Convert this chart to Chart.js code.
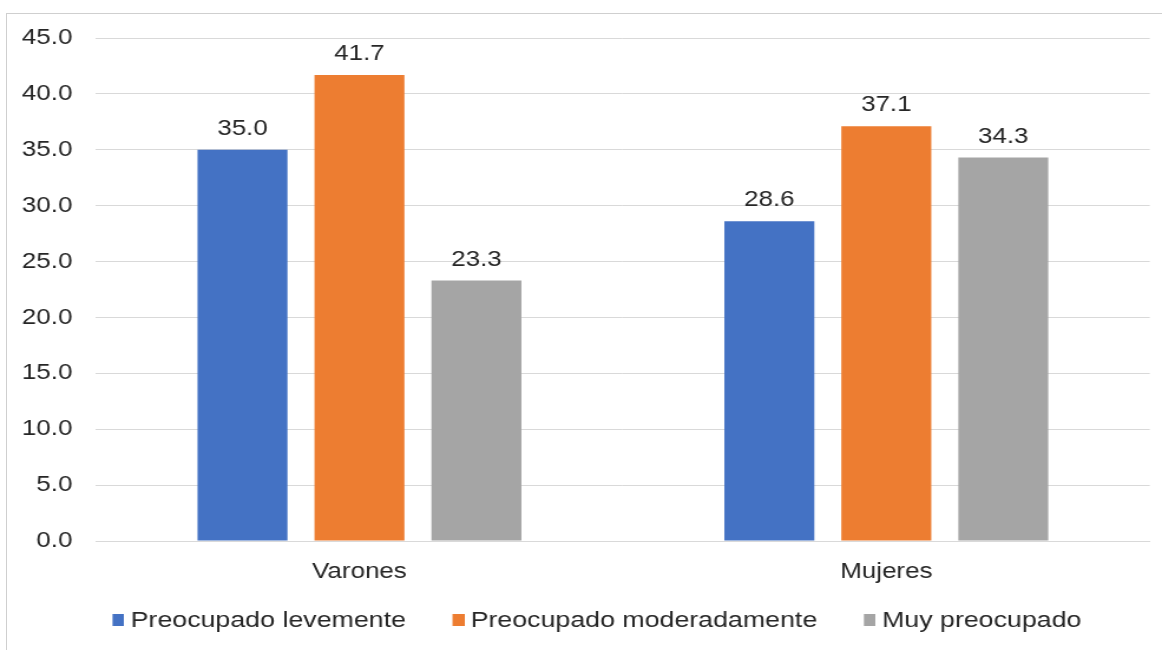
<!DOCTYPE html>
<html>
<head>
<meta charset="utf-8">
<script src="https://cdn.jsdelivr.net/npm/chart.js@4"></script>
<style>
  body { margin: 0; background: #fff; overflow: hidden; }
  #frame { position: absolute; left: 6px; top: 13px; width: 2000px; height: 2000px; border: 1px solid #cfcfcf; }
  #wrap { position: absolute; left: 0; top: 0; width: 985px; height: 650px; transform: scaleX(1.1797); transform-origin: 0 0; }
</style>
</head>
<body>
<div id="frame"></div>
<div id="wrap"><canvas id="myChart" width="985" height="650"></canvas></div>
<script>
  // data
  var groups = ["Varones", "Mujeres"];
  var series = ["Preocupado levemente", "Preocupado moderadamente", "Muy preocupado"];
  var levemente = [35.0, 28.6];
  var moderadamente = [41.7, 37.1];
  var muy = [23.3, 34.3];
  var colors = ["#4472C4", "#ED7D31", "#A5A5A5"];

  var font = '"Liberation Sans", Arial, sans-serif';
  var textColor = "#262626";

  // legend square, drawn on the right side of a wider image so the text sits close to it
  function legendMark(color){
    var c = document.createElement("canvas");
    c.width = 22;
    c.height = 12;
    var g = c.getContext("2d");
    g.fillStyle = color;
    g.fillRect(12, 0, 10, 12);
    return c;
  }

  // value labels above bars
  var valueLabels = {
    id: "valueLabels",
    afterDatasetsDraw: function(chart){
      var ctx = chart.ctx;
      ctx.save();
      ctx.font = "22px " + font;
      ctx.fillStyle = textColor;
      ctx.textAlign = "center";
      ctx.textBaseline = "alphabetic";
      chart.data.datasets.forEach(function(ds, i){
        chart.getDatasetMeta(i).data.forEach(function(bar, j){
          ctx.fillText(ds.data[j].toFixed(1), bar.x, bar.y - 15);
        })
      })
      ctx.restore();
    }
  };

  // nudge the legend up / right after layout
  var legendShift = {
    id: "legendShift",
    afterLayout: function(chart){
      var lg = chart.legend;
      if (!lg) return;
      lg.top -= 9.9; lg.bottom -= 9.9;
      lg.left += 15.7; lg.right += 15.7;
    }
  };

  var ctx = document.getElementById("myChart").getContext("2d");
  var myChart = new Chart(ctx, {
    type: "bar",
    data: {
      labels: groups,
      datasets: [
        { label: series[0], data: levemente, backgroundColor: colors[0] },
        { label: series[1], data: moderadamente, backgroundColor: colors[1] },
        { label: series[2], data: muy, backgroundColor: colors[2] }
      ].map(function(d){
        d.categoryPercentage = 0.666;
        d.barPercentage = 0.769;
        return d;
      })
    },
    options: {
      responsive: false,
      devicePixelRatio: 1,
      animation: false,
      layout: { padding: { top: 38, left: 0, right: 10.4, bottom: 0 } },
      scales: {
        x: {
          grid: { display: false },
          border: { color: "#d9d9d9" },
          ticks: { color: textColor, font: { family: font, size: 22 }, padding: 10 },
          afterFit: function(s){ s.height = 44.4; }
        },
        y: {
          min: 0,
          max: 45,
          border: { display: false },
          grid: { color: "#d9d9d9", drawTicks: false },
          ticks: {
            stepSize: 5,
            color: textColor,
            font: { family: font, size: 22 },
            padding: 20,
            callback: function(v){ return v.toFixed(1); }
          },
          afterFit: function(s){ s.width = 81.4; }
        }
      },
      plugins: {
        tooltip: { enabled: false },
        legend: {
          position: "bottom",
          maxHeight: 64.6,
          labels: {
            color: textColor,
            font: { family: font, size: 22.7 },
            usePointStyle: true,
            pointStyleWidth: 10,
            boxHeight: 12,
            padding: 33.5,
            generateLabels: function(chart){
              var items = Chart.defaults.plugins.legend.labels.generateLabels(chart);
              items.forEach(function(it, i){ it.pointStyle = legendMark(colors[i]); });
              return items;
            }
          }
        }
      }
    },
    plugins: [valueLabels, legendShift]
  })
</script>
</body>
</html>
